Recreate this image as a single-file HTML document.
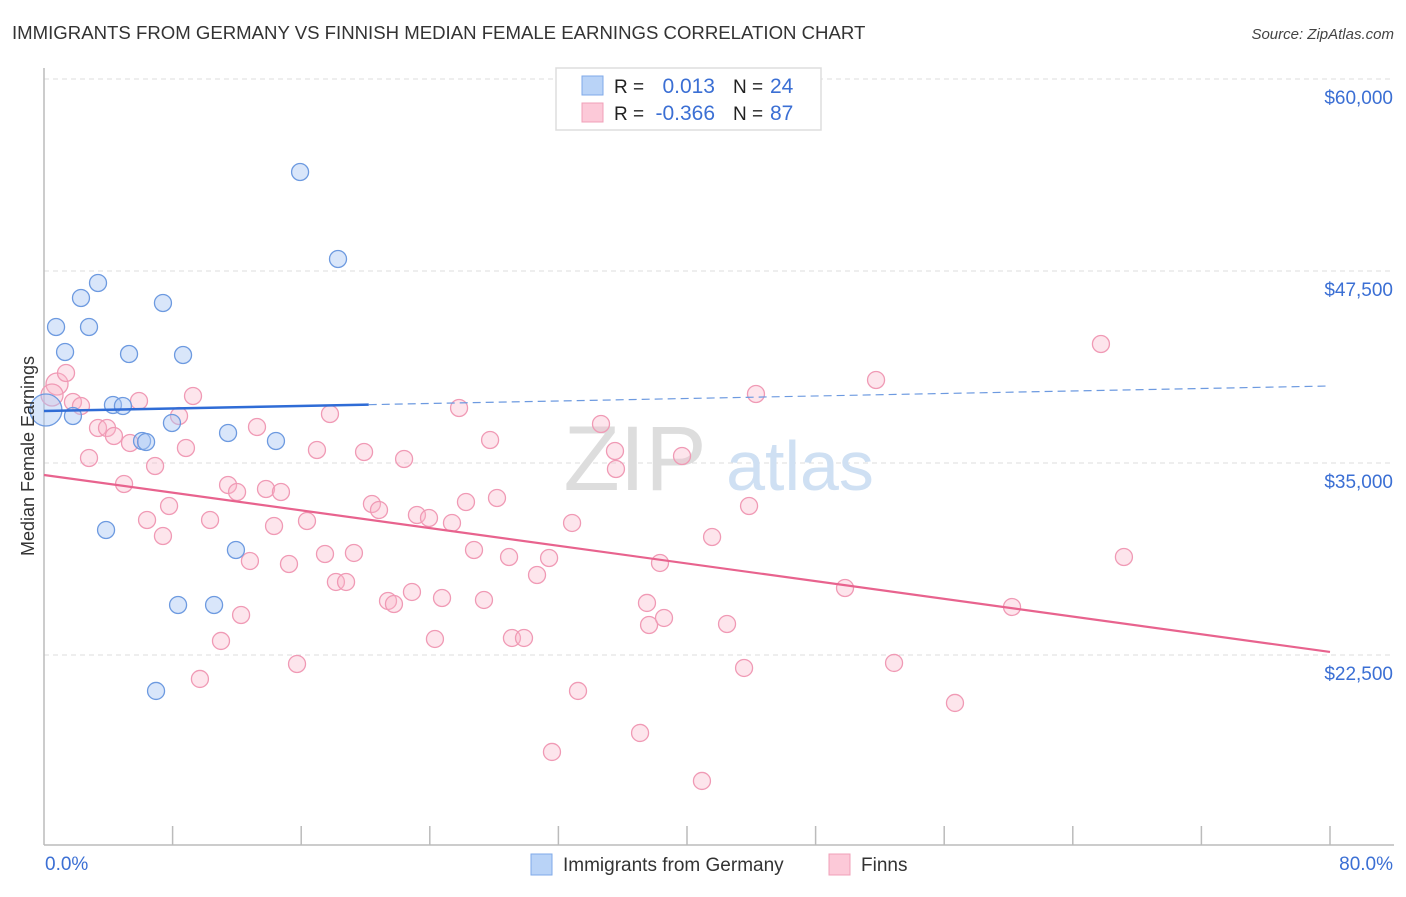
<!DOCTYPE html>
<html><head><meta charset="utf-8"><style>
body{margin:0;background:#fff;font-family:"Liberation Sans",sans-serif;}
svg text{font-family:"Liberation Sans",sans-serif;}
</style></head><body>
<svg id="chart" width="1406" height="892" viewBox="0 0 1406 892" xmlns="http://www.w3.org/2000/svg">
<text x="12" y="39" font-size="18.6" fill="#333">IMMIGRANTS FROM GERMANY VS FINNISH MEDIAN FEMALE EARNINGS CORRELATION CHART</text>
<text x="1394" y="39" font-size="15" fill="#444" font-style="italic" text-anchor="end">Source: ZipAtlas.com</text>
<g id="grid"></g>
<g id="axes"></g>
<g>
<text x="635" y="490" font-size="92" fill="#ddd" font-family="Liberation Serif,serif" text-anchor="middle">ZIP</text>
<text x="800" y="490" font-size="70" fill="#cfe0f3" text-anchor="middle">atlas</text>
</g>
<g id="pts"></g>
<g id="trends"></g>
<text transform="translate(34,456) rotate(-90)" font-size="18" fill="#333" text-anchor="middle">Median Female Earnings</text>
<g>
<rect x="556" y="68" width="265" height="62" fill="#fff" stroke="#ddd" stroke-width="1.5"/>
<rect x="582" y="76" width="21" height="19" fill="#b9d3f7" stroke="#7fa9e8"/>
<rect x="582" y="103" width="21" height="19" fill="#fcc9d8" stroke="#f0a0b8"/>
<text x="614" y="93" font-size="19" fill="#222">R =</text>
<text x="715" y="93" font-size="21" fill="#3b6fd4" text-anchor="end">0.013</text>
<text x="733" y="93" font-size="19" fill="#222">N =</text>
<text x="770" y="93" font-size="21" fill="#3b6fd4">24</text>
<text x="614" y="120" font-size="19" fill="#222">R =</text>
<text x="715" y="120" font-size="21" fill="#3b6fd4" text-anchor="end">-0.366</text>
<text x="733" y="120" font-size="19" fill="#222">N =</text>
<text x="770" y="120" font-size="21" fill="#3b6fd4">87</text>
</g>
<g>
<rect x="531" y="854" width="21" height="21" fill="#b9d3f7" stroke="#7fa9e8"/>
<text x="563" y="871" font-size="19" fill="#333">Immigrants from Germany</text>
<rect x="829" y="854" width="21" height="21" fill="#fcc9d8" stroke="#f0a0b8"/>
<text x="861" y="871" font-size="19" fill="#333">Finns</text>
</g>
</svg>
<script>
const yTicks=[60000,47500,35000,22500];
const yTickLabels=["$60,000","$47,500","$35,000","$22,500"];
const xTickLabels=["0.0%","80.0%"];
const blueX=[15.93,18.29,3.36,2.30,7.40,0.75,2.80,1.31,5.29,8.65,4.29,4.91,1.80,7.96,11.45,6.10,6.35,14.43,3.86,11.94,8.34,10.58,6.97,0.12];
const blueY=[53946,48282,46720,45743,45418,43855,43855,42228,42097,42032,38777,38712,38061,37606,36955,36434,36369,36434,30640,29338,25757,25757,20159,38452];
const pinkX=[0.81,0.50,1.37,1.80,2.30,5.91,9.27,3.36,3.92,4.35,5.35,8.40,6.91,8.83,2.80,4.98,7.78,6.41,7.40,10.33,11.45,12.01,13.81,14.74,13.25,14.31,16.36,16.98,12.81,15.24,12.26,11.01,9.70,15.74,17.48,18.16,18.79,19.28,17.79,19.91,20.40,20.84,22.40,23.20,23.95,25.38,21.40,21.77,22.89,24.76,24.32,25.82,26.25,26.75,27.75,28.18,27.37,28.93,29.11,29.86,30.67,31.42,32.85,33.22,31.60,34.65,35.52,35.58,37.51,37.64,38.57,38.32,37.08,40.93,39.69,41.56,42.49,43.86,44.29,43.55,49.83,51.76,52.88,56.67,60.22,65.75,67.18];
const pinkY=[40144,39428,40861,38973,38712,39038,39363,37280,37280,36759,36304,38061,34806,35978,35327,33634,32202,31291,30249,31291,33569,33114,33309,33114,37345,30900,31226,35848,28622,28426,25106,23414,20940,21916,29077,27255,27255,29143,38191,35718,32332,31942,35262,31616,31421,31096,26018,25822,26604,26213,23544,38582,32463,29338,36499,32723,26083,28882,23609,23609,27710,28817,31096,20159,16188,37540,35783,34611,25888,24455,24911,28492,17425,14300,35457,30184,24520,32202,39493,21656,26864,40405,21982,19378,25627,42748,28882];
const blueTrend=[38387,40014]; const blueSolidEnd=20.2;
const pinkTrend=[34220,22698];
const NS="http://www.w3.org/2000/svg";
const X=p=>44+p*16.075, Y=v=>79+(60000-v)*0.01536;
function mk(t,a,parent){const e=document.createElementNS(NS,t);for(const k in a)e.setAttribute(k,a[k]);document.getElementById(parent).appendChild(e);return e;}
yTicks.forEach((v,i)=>{
 const l=mk('line',{x1:44,x2:1394,y1:Y(v),y2:Y(v),stroke:'#ddd','stroke-dasharray':'5,4'},'grid');
 
 
 const t=mk('text',{x:1393,y:Y(v)+25,'font-size':19,fill:'#3b6fd4','text-anchor':'end'},'grid');
 t.textContent=yTickLabels[i];
 
 
});
mk('line',{x1:44,x2:44,y1:68,y2:845,stroke:'#bbb','stroke-width':1.5},'axes');
mk('line',{x1:44,x2:1394,y1:845,y2:845,stroke:'#bbb','stroke-width':1.5},'axes');
for(let i=1;i<=10;i++){const x=X(i*8);mk('line',{x1:x,x2:x,y1:826,y2:845,stroke:'#bbb','stroke-width':1.5},'axes');}
[[0,'start',45],[80,'end',1393]].forEach((d,i)=>{const t=mk('text',{x:d[2],y:870,'font-size':19,fill:'#3b6fd4','text-anchor':d[1]},'axes');t.textContent=xTickLabels[i];
 
 });
pinkX.forEach((x,i)=>{const c=mk('circle',{cx:X(x),cy:Y(pinkY[i]),r:(i<2?11:8.5),fill:'rgba(248,180,200,0.35)',stroke:'#f09ab5','stroke-width':1.3},'pts');
 
 });
blueX.forEach((x,i)=>{const c=mk('circle',{cx:X(x),cy:Y(blueY[i]),r:(i==23?16:8.5),fill:'rgba(170,200,245,0.45)',stroke:'#6d9ae0','stroke-width':1.3},'pts');
 
 });
const bv=p=>blueTrend[0]+(blueTrend[1]-blueTrend[0])*p/80;
let l=mk('line',{x1:X(0),y1:Y(bv(0)),x2:X(blueSolidEnd),y2:Y(bv(blueSolidEnd)),stroke:'#2f6cd6','stroke-width':2.5},'trends');


l=mk('line',{x1:X(blueSolidEnd),y1:Y(bv(blueSolidEnd)),x2:X(80),y2:Y(bv(80)),stroke:'#6d9ae0','stroke-width':1.2,'stroke-dasharray':'8,5'},'trends');


l=mk('line',{x1:X(0),y1:Y(pinkTrend[0]),x2:X(80),y2:Y(pinkTrend[1]),stroke:'#e8638e','stroke-width':2.2},'trends');


</script>
</body></html>
